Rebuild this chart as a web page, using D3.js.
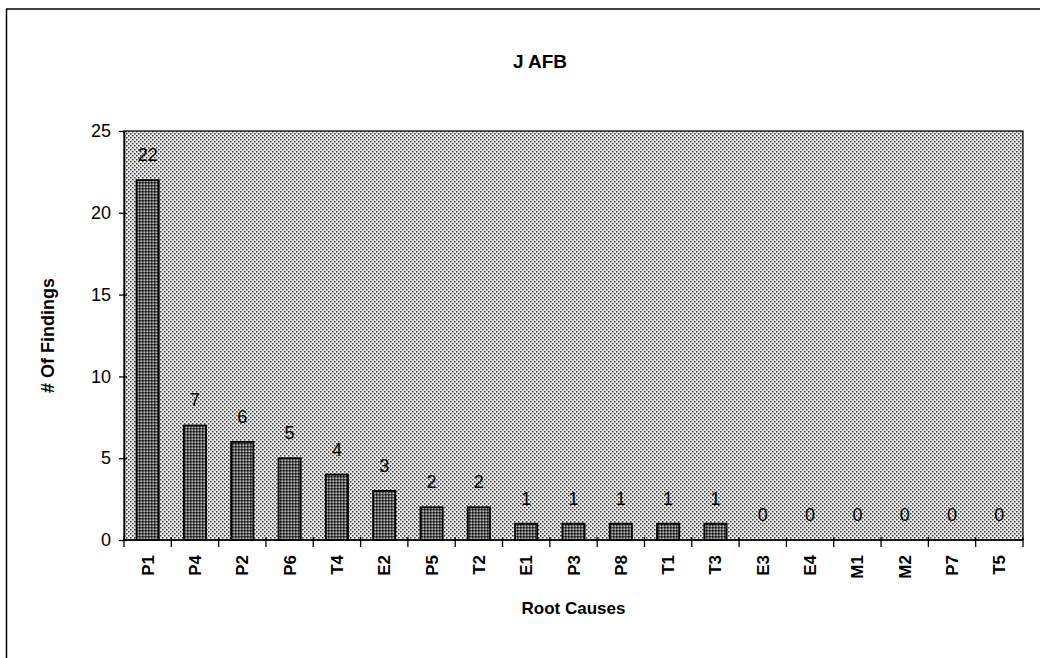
<!doctype html>
<html lang="en">
<head>
  <title>J AFB</title>
  <script src="https://d3js.org/d3.v7.min.js"></script>
  <style>
    body { margin: 0px; background: #fff; }
    text { font-family: "Liberation Sans", Arial, sans-serif; fill: #000; }
  </style>
</head>
<body>
    <div id="container"></div>

    <script>
        // chart data
        var causes = ["P1", "P4", "P2", "P6", "T4", "E2", "P5", "T2", "E1", "P3", "P8", "T1", "T3", "E3", "E4", "M1", "M2", "P7", "T5"];
        var findings = [22, 7, 6, 5, 4, 3, 2, 2, 1, 1, 1, 1, 1, 0, 0, 0, 0, 0, 0];
        var yTicks = [0, 5, 10, 15, 20, 25];

        var data = causes.map(function(c, i) { return { cause: c, value: findings[i] }; });

        var W = 1040, H = 658;
        var margin = { top: 131, right: 17, bottom: 118, left: 124 },
            width = W - margin.left - margin.right,
            height = H - margin.top - margin.bottom;

        var svg = d3.select('div#container').append('svg')
            .attr('width', W)
            .attr('height', H);

        // stipple patterns
        var defs = svg.append('defs');
        var bgPat = defs.append('pattern')
            .attr('id', 'bgdots').attr('patternUnits', 'userSpaceOnUse')
            .attr('width', 4).attr('height', 4);
        bgPat.append('rect').attr('width', 4).attr('height', 4).attr('fill', '#ececec');
        bgPat.append('rect').attr('x', 0).attr('y', 0).attr('width', 1.5).attr('height', 1.5).attr('fill', '#333');
        bgPat.append('rect').attr('x', 2).attr('y', 2).attr('width', 1.5).attr('height', 1.5).attr('fill', '#333');

        var barPat = defs.append('pattern')
            .attr('id', 'bardots').attr('patternUnits', 'userSpaceOnUse')
            .attr('width', 3).attr('height', 3);
        barPat.append('rect').attr('width', 3).attr('height', 3).attr('fill', '#555');
        barPat.append('rect').attr('x', 0).attr('y', 0).attr('width', 1.5).attr('height', 1.5).attr('fill', '#111');
        barPat.append('rect').attr('x', 1.5).attr('y', 1.5).attr('width', 1.5).attr('height', 1.5).attr('fill', '#bbb');

        // outer frame (top and left edges)
        svg.append('line').attr('x1', 6).attr('x2', W).attr('y1', 9).attr('y2', 9)
            .attr('stroke', '#000').attr('stroke-width', 1.5);
        svg.append('line').attr('x1', 6.5).attr('x2', 6.5).attr('y1', 9).attr('y2', H)
            .attr('stroke', '#000').attr('stroke-width', 1.5);

        var g = svg.append('g')
            .attr('transform', 'translate(' + margin.left + ',' + margin.top + ')');

        // scales
        var x = d3.scaleBand()
            .domain(causes)
            .range([0, width])
            .paddingInner(0.53)
            .paddingOuter(0.265);
        var y = d3.scaleLinear()
            .domain([0, 25])
            .range([height, 0]);

        // plot area
        g.append('rect')
            .attr('width', width).attr('height', height)
            .attr('fill', 'url(#bgdots)')
            .attr('stroke', '#000').attr('stroke-width', 1.2);

        // bars
        g.selectAll('rect.bar')
            .data(data)
            .enter()
            .append('rect')
            .attr('class', 'bar')
            .attr('x', function(d) { return x(d.cause); })
            .attr('y', function(d) { return y(d.value); })
            .attr('width', x.bandwidth())
            .attr('height', function(d) { return height - y(d.value); })
            .attr('fill', 'url(#bardots)')
            .attr('stroke', '#000').attr('stroke-width', 1.8)
            .style('display', function(d) { return d.value > 0 ? null : 'none'; });

        // value labels
        g.selectAll('text.val')
            .data(data)
            .enter()
            .append('text')
            .attr('class', 'val')
            .attr('x', function(d) { return x(d.cause) + x.bandwidth() / 2; })
            .attr('y', function(d) { return y(d.value) - 19; })
            .attr('text-anchor', 'middle')
            .style('font-size', '18px')
            .text(function(d) { return d.value; });

        // y axis
        var yAxis = g.append('g')
            .call(d3.axisLeft(y).tickValues(yTicks).tickSize(0).tickPadding(13));
        yAxis.select('.domain').attr('stroke', '#000').attr('stroke-width', 1.5);
        yAxis.selectAll('.tick text').style('font-size', '18px').attr('fill', '#000');
        yAxis.selectAll('.tick').append('line')
            .attr('x1', -5).attr('x2', 3).attr('stroke', '#000').attr('stroke-width', 1.3);

        // x axis: ticks at band boundaries
        var bounds = d3.range(causes.length + 1).map(function(i) { return i * width / causes.length; });
        var xAxis = g.append('g').attr('transform', 'translate(0,' + height + ')');
        xAxis.append('line').attr('x1', 0).attr('x2', width).attr('stroke', '#000').attr('stroke-width', 1.5);
        xAxis.selectAll('line.tk')
            .data(bounds)
            .enter()
            .append('line')
            .attr('class', 'tk')
            .attr('x1', function(d) { return d; }).attr('x2', function(d) { return d; })
            .attr('y1', -3).attr('y2', 7)
            .attr('stroke', '#000').attr('stroke-width', 1.3);
        xAxis.selectAll('text.lab')
            .data(causes)
            .enter()
            .append('text')
            .attr('class', 'lab')
            .attr('transform', function(d) { return 'translate(' + (x(d) + x.bandwidth() / 2 + 6) + ',15) rotate(-90)'; })
            .attr('text-anchor', 'end')
            .style('font-size', '17px').style('font-weight', 'bold')
            .text(function(d) { return d; });

        // title and axis titles
        svg.append('text')
            .attr('x', 540).attr('y', 68)
            .attr('text-anchor', 'middle')
            .style('font-size', '19px').style('font-weight', 'bold')
            .text('J AFB');
        svg.append('text')
            .attr('transform', 'translate(54,' + (margin.top + height / 2) + ') rotate(-90)')
            .attr('text-anchor', 'middle')
            .style('font-size', '18px').style('font-weight', 'bold')
            .text('# Of Findings');
        svg.append('text')
            .attr('x', margin.left + width / 2).attr('y', 614)
            .attr('text-anchor', 'middle')
            .style('font-size', '17px').style('font-weight', 'bold')
            .text('Root Causes');
    </script>
</body>
</html>
